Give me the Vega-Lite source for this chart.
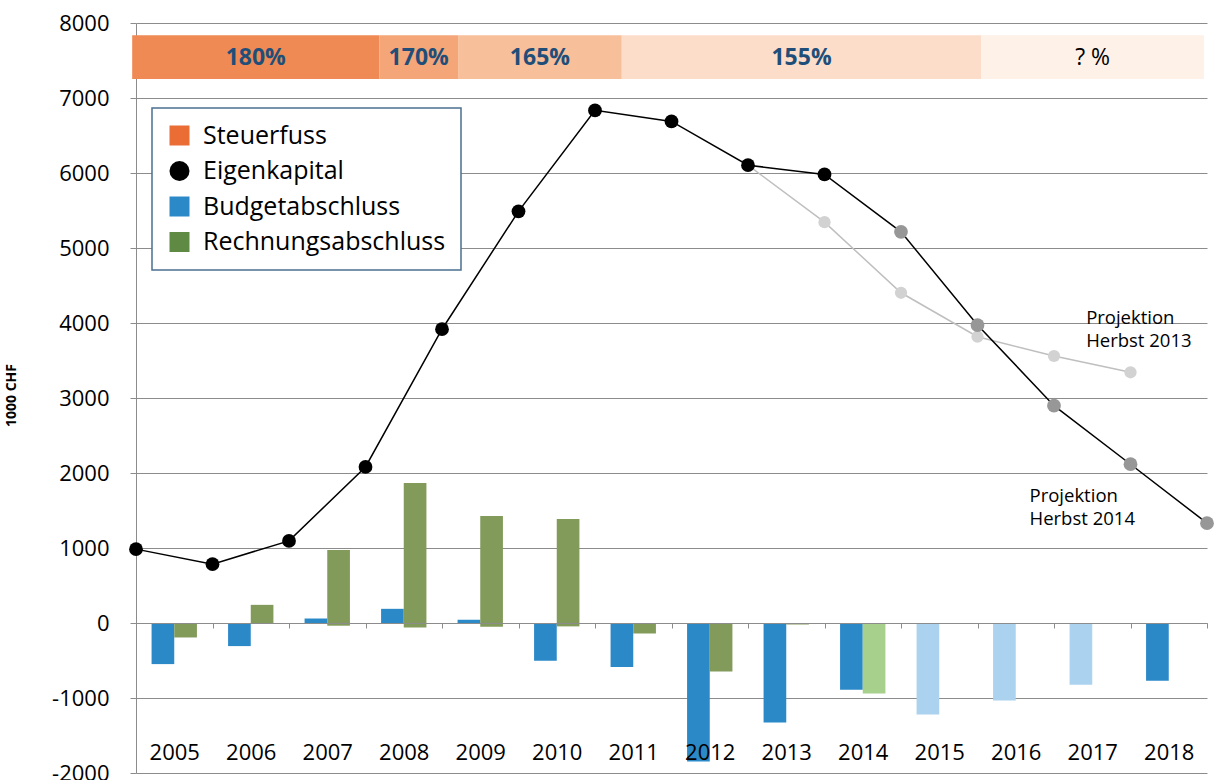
{
  "$schema": "https://vega.github.io/schema/vega-lite/v6.json",
  "width": 1071,
  "height": 750,
  "autosize": {"type": "none"},
  "padding": {"left": 136, "top": 23, "right": 12, "bottom": 7},
  "background": "white",
  "config": {
    "font": "Open Sans",
    "view": {"stroke": null},
    "axisY": {
      "grid": true, "gridColor": "#8C8C8C", "domainColor": "#8C8C8C", "tickColor": "#8C8C8C",
      "tickSize": 6, "labelFontSize": 22, "labelPadding": 21, "labelColor": "black",
      "titleFontSize": 14, "titleFontWeight": "bold", "titleColor": "black",
      "titleX": -118, "titleY": 372, "titleAngle": -90
    },
    "legend": {
      "orient": "none",
      "legendX": 16,
      "legendY": 85,
      "title": null,
      "labelFont": "Open Sans",
      "labelFontSize": 25,
      "labelColor": "black",
      "labelLimit": 400,
      "labelOffset": 11,
      "rowPadding": 9.5,
      "symbolSize": 400,
      "symbolStrokeWidth": 0,
      "padding": 15,
      "fillColor": "white",
      "strokeColor": "#4A7090",
      "strokeWidth": 1.5
    }
  },
  "datasets": {
    "steuer": [
      {"kat": "180%", "von": 2003.95, "bis": 2007.18},
      {"kat": "170%", "von": 2007.18, "bis": 2008.21},
      {"kat": "165%", "von": 2008.21, "bis": 2010.35},
      {"kat": "155%", "von": 2010.35, "bis": 2015.05},
      {"kat": "? %", "von": 2015.05, "bis": 2017.96}
    ],
    "bars": [
      {"jahr": 2005, "serie": "Budgetabschluss", "kat": "Budgetabschluss", "wert": -548},
      {"jahr": 2006, "serie": "Budgetabschluss", "kat": "Budgetabschluss", "wert": -308},
      {"jahr": 2007, "serie": "Budgetabschluss", "kat": "Budgetabschluss", "wert": 60},
      {"jahr": 2008, "serie": "Budgetabschluss", "kat": "Budgetabschluss", "wert": 189},
      {"jahr": 2009, "serie": "Budgetabschluss", "kat": "Budgetabschluss", "wert": 43},
      {"jahr": 2010, "serie": "Budgetabschluss", "kat": "Budgetabschluss", "wert": -504},
      {"jahr": 2011, "serie": "Budgetabschluss", "kat": "Budgetabschluss", "wert": -588},
      {"jahr": 2012, "serie": "Budgetabschluss", "kat": "Budgetabschluss", "wert": -1845},
      {"jahr": 2013, "serie": "Budgetabschluss", "kat": "Budgetabschluss", "wert": -1326},
      {"jahr": 2014, "serie": "Budgetabschluss", "kat": "Budgetabschluss", "wert": -890},
      {"jahr": 2015, "serie": "Budgetabschluss", "kat": "Budget Projektion", "wert": -1219},
      {"jahr": 2016, "serie": "Budgetabschluss", "kat": "Budget Projektion", "wert": -1032},
      {"jahr": 2017, "serie": "Budgetabschluss", "kat": "Budget Projektion", "wert": -823},
      {"jahr": 2018, "serie": "Budgetabschluss", "kat": "Budgetabschluss", "wert": -770},
      {"jahr": 2005, "serie": "Rechnungsabschluss", "kat": "Rechnung", "wert": -193},
      {"jahr": 2006, "serie": "Rechnungsabschluss", "kat": "Rechnung", "wert": 242},
      {"jahr": 2007, "serie": "Rechnungsabschluss", "kat": "Rechnung", "wert": 975},
      {"jahr": 2007, "serie": "Rechnungsabschluss", "kat": "Rechnung", "wert": -36},
      {"jahr": 2008, "serie": "Rechnungsabschluss", "kat": "Rechnung", "wert": 1868},
      {"jahr": 2008, "serie": "Rechnungsabschluss", "kat": "Rechnung", "wert": -60},
      {"jahr": 2009, "serie": "Rechnungsabschluss", "kat": "Rechnung", "wert": 1428},
      {"jahr": 2009, "serie": "Rechnungsabschluss", "kat": "Rechnung", "wert": -50},
      {"jahr": 2010, "serie": "Rechnungsabschluss", "kat": "Rechnung", "wert": 1388},
      {"jahr": 2010, "serie": "Rechnungsabschluss", "kat": "Rechnung", "wert": -45},
      {"jahr": 2011, "serie": "Rechnungsabschluss", "kat": "Rechnung", "wert": -140},
      {"jahr": 2012, "serie": "Rechnungsabschluss", "kat": "Rechnung", "wert": -646},
      {"jahr": 2013, "serie": "Rechnungsabschluss", "kat": "Rechnung", "wert": -20},
      {"jahr": 2014, "serie": "Rechnungsabschluss", "kat": "Rechnung Projektion", "wert": -939}
    ],
    "ek": [
      {"jahr": 2004, "kat": "Eigenkapital", "wert": 985},
      {"jahr": 2005, "kat": "Eigenkapital", "wert": 785},
      {"jahr": 2006, "kat": "Eigenkapital", "wert": 1095},
      {"jahr": 2007, "kat": "Eigenkapital", "wert": 2081},
      {"jahr": 2008, "kat": "Eigenkapital", "wert": 3917},
      {"jahr": 2009, "kat": "Eigenkapital", "wert": 5489},
      {"jahr": 2010, "kat": "Eigenkapital", "wert": 6835},
      {"jahr": 2011, "kat": "Eigenkapital", "wert": 6688},
      {"jahr": 2012, "kat": "Eigenkapital", "wert": 6104},
      {"jahr": 2013, "kat": "Eigenkapital", "wert": 5981},
      {"jahr": 2014, "kat": "Eigenkapital Projektion", "wert": 5216},
      {"jahr": 2015, "kat": "Eigenkapital Projektion", "wert": 3973},
      {"jahr": 2016, "kat": "Eigenkapital Projektion", "wert": 2898},
      {"jahr": 2017, "kat": "Eigenkapital Projektion", "wert": 2117},
      {"jahr": 2018, "kat": "Eigenkapital Projektion", "wert": 1331}
    ],
    "h2013": [
      {"jahr": 2012, "kat": "Projektion Herbst 2013", "wert": 6104},
      {"jahr": 2013, "kat": "Projektion Herbst 2013", "wert": 5345},
      {"jahr": 2014, "kat": "Projektion Herbst 2013", "wert": 4403},
      {"jahr": 2015, "kat": "Projektion Herbst 2013", "wert": 3817},
      {"jahr": 2016, "kat": "Projektion Herbst 2013", "wert": 3560},
      {"jahr": 2017, "kat": "Projektion Herbst 2013", "wert": 3343}
    ]
  },
  "resolve": {"scale": {"x": "independent"}},
  "layer": [
    {
      "data": {"name": "bars"},
      "mark": {"type": "bar"},
      "encoding": {
        "x": {
          "field": "jahr", "type": "ordinal",
          "scale": {"paddingInner": 0, "paddingOuter": 0},
          "axis": {
            "orient": "bottom", "offset": -150, "title": null, "tickBand": "extent",
            "labelFontSize": 22, "labelColor": "black", "labelAngle": 0,
            "labelBaseline": "alphabetic", "labelPadding": 131, "tickSize": 5,
            "domainColor": "#8C8C8C", "tickColor": "#8C8C8C", "grid": false, "zindex": 1
          }
        },
        "xOffset": {"field": "serie", "type": "nominal", "scale": {"domain": ["Budgetabschluss", "Rechnungsabschluss"], "paddingInner": 0, "paddingOuter": 0.687}},
        "y": {
          "field": "wert", "type": "quantitative", "stack": null, "title": "1000 CHF",
          "scale": {"domain": [-2000, 8000], "nice": false},
          "axis": {
            "values": [-2000, -1000, 0, 1000, 2000, 3000, 4000, 5000, 6000, 7000, 8000],
            "labelExpr": "'' + datum.value",
            "title": "1000 CHF"
          }
        },
        "color": {
          "field": "kat", "type": "nominal",
          "scale": {
            "domain": ["Steuerfuss", "Eigenkapital", "Budgetabschluss", "Rechnungsabschluss", "180%", "170%", "165%", "155%", "? %", "Eigenkapital Projektion", "Projektion Herbst 2013", "Budget Projektion", "Rechnung", "Rechnung Projektion"],
            "range": ["#E96D35", "#000000", "#2B89C8", "#5E8A43", "#F08A55", "#F4A679", "#F8BF9B", "#FCDDCA", "#FEF1E8", "#979797", "#D2D2D2", "#ABD2EE", "#829B5A", "#A8D08D"]
          },
          "legend": {"values": ["Steuerfuss", "Eigenkapital", "Budgetabschluss", "Rechnungsabschluss"]}
        }
      }
    },
    {
      "data": {"name": "steuer"},
      "mark": {"type": "rect"},
      "encoding": {
        "x": {"field": "von", "type": "quantitative", "scale": {"domain": [2004, 2018], "nice": false, "zero": false}, "axis": null},
        "x2": {"field": "bis"},
        "y": {"datum": 7836, "type": "quantitative", "title": "1000 CHF", "scale": {"domain": [-2000, 8000], "nice": false}},
        "y2": {"datum": 7254},
        "color": {"field": "kat", "type": "nominal", "legend": {"values": ["Steuerfuss", "Eigenkapital", "Budgetabschluss", "Rechnungsabschluss"]}}
      }
    },
    {
      "data": {"name": "steuer"},
      "transform": [
        {"fold": ["von", "bis"], "as": ["grenze", "pos"]},
        {"aggregate": [{"op": "mean", "field": "pos", "as": "mitte"}], "groupby": ["kat"]},
        {"filter": "datum.kat !== '? %'"}
      ],
      "mark": {"type": "text", "fontSize": 23, "fontWeight": "bold", "color": "#1F4E79", "align": "center", "baseline": "middle"},
      "encoding": {
        "x": {"field": "mitte", "type": "quantitative", "scale": {"domain": [2004, 2018], "nice": false, "zero": false}, "axis": null},
        "y": {"datum": 7537, "type": "quantitative", "title": "1000 CHF", "scale": {"domain": [-2000, 8000], "nice": false}},
        "text": {"field": "kat"}
      }
    },
    {
      "data": {"name": "steuer"},
      "transform": [
        {"fold": ["von", "bis"], "as": ["grenze", "pos"]},
        {"aggregate": [{"op": "mean", "field": "pos", "as": "mitte"}], "groupby": ["kat"]},
        {"filter": "datum.kat === '? %'"}
      ],
      "mark": {"type": "text", "fontSize": 23, "color": "black", "align": "center", "baseline": "middle"},
      "encoding": {
        "x": {"field": "mitte", "type": "quantitative", "scale": {"domain": [2004, 2018], "nice": false, "zero": false}, "axis": null},
        "y": {"datum": 7537, "type": "quantitative", "title": "1000 CHF", "scale": {"domain": [-2000, 8000], "nice": false}},
        "text": {"field": "kat"}
      }
    },
    {
      "data": {"name": "h2013"},
      "mark": {"type": "line", "color": "#BFBFBF", "strokeWidth": 1.5},
      "encoding": {
        "x": {"field": "jahr", "type": "quantitative", "scale": {"domain": [2004, 2018], "nice": false, "zero": false}, "axis": null},
        "y": {"field": "wert", "type": "quantitative", "title": "1000 CHF", "scale": {"domain": [-2000, 8000], "nice": false}}
      }
    },
    {
      "data": {"name": "h2013"},
      "mark": {"type": "point", "filled": true, "opacity": 1, "size": 150},
      "encoding": {
        "x": {"field": "jahr", "type": "quantitative", "scale": {"domain": [2004, 2018], "nice": false, "zero": false}, "axis": null},
        "y": {"field": "wert", "type": "quantitative", "title": "1000 CHF", "scale": {"domain": [-2000, 8000], "nice": false}},
        "color": {"field": "kat", "type": "nominal", "legend": {"values": ["Steuerfuss", "Eigenkapital", "Budgetabschluss", "Rechnungsabschluss"]}},
        "shape": {
          "field": "kat", "type": "nominal",
          "scale": {
            "domain": ["Steuerfuss", "Eigenkapital", "Budgetabschluss", "Rechnungsabschluss", "180%", "170%", "165%", "155%", "? %", "Eigenkapital Projektion", "Projektion Herbst 2013", "Budget Projektion", "Rechnung", "Rechnung Projektion"],
            "range": ["square", "circle", "square", "square", "square", "square", "square", "square", "square", "circle", "circle", "square", "square", "square"]
          },
          "legend": {"values": ["Steuerfuss", "Eigenkapital", "Budgetabschluss", "Rechnungsabschluss"]}
        }
      }
    },
    {
      "data": {"name": "ek"},
      "mark": {"type": "line", "color": "#000000", "strokeWidth": 1.5},
      "encoding": {
        "x": {"field": "jahr", "type": "quantitative", "scale": {"domain": [2004, 2018], "nice": false, "zero": false}, "axis": null},
        "y": {"field": "wert", "type": "quantitative", "title": "1000 CHF", "scale": {"domain": [-2000, 8000], "nice": false}}
      }
    },
    {
      "data": {"name": "ek"},
      "mark": {"type": "point", "filled": true, "opacity": 1, "size": 190},
      "encoding": {
        "x": {"field": "jahr", "type": "quantitative", "scale": {"domain": [2004, 2018], "nice": false, "zero": false}, "axis": null},
        "y": {"field": "wert", "type": "quantitative", "title": "1000 CHF", "scale": {"domain": [-2000, 8000], "nice": false}},
        "color": {"field": "kat", "type": "nominal", "legend": {"values": ["Steuerfuss", "Eigenkapital", "Budgetabschluss", "Rechnungsabschluss"]}},
        "shape": {"field": "kat", "type": "nominal", "legend": {"values": ["Steuerfuss", "Eigenkapital", "Budgetabschluss", "Rechnungsabschluss"]}}
      }
    },
    {
      "data": {"values": [{}]},
      "mark": {"type": "text", "align": "left", "baseline": "alphabetic", "fontSize": 18.5, "lineHeight": 23, "color": "black"},
      "encoding": {
        "x": {"datum": 2016.42, "type": "quantitative", "scale": {"domain": [2004, 2018], "nice": false, "zero": false}, "axis": null},
        "y": {"datum": 3982, "type": "quantitative", "title": "1000 CHF", "scale": {"domain": [-2000, 8000], "nice": false}},
        "text": {"value": ["Projektion", "Herbst 2013"]}
      }
    },
    {
      "data": {"values": [{}]},
      "mark": {"type": "text", "align": "left", "baseline": "alphabetic", "fontSize": 18.5, "lineHeight": 23, "color": "black"},
      "encoding": {
        "x": {"datum": 2015.68, "type": "quantitative", "scale": {"domain": [2004, 2018], "nice": false, "zero": false}, "axis": null},
        "y": {"datum": 1619, "type": "quantitative", "title": "1000 CHF", "scale": {"domain": [-2000, 8000], "nice": false}},
        "text": {"value": ["Projektion", "Herbst 2014"]}
      }
    }
  ]
}
